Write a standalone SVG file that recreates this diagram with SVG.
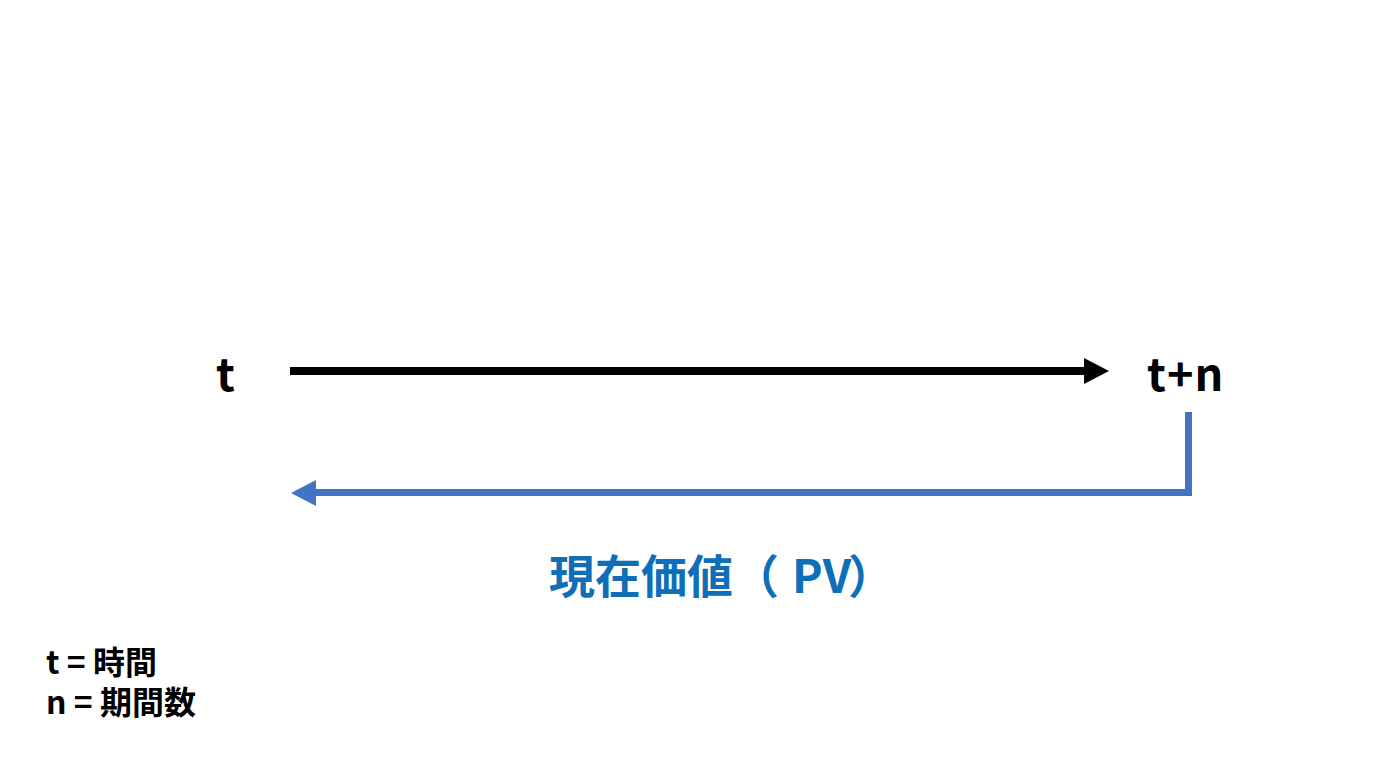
<svg xmlns="http://www.w3.org/2000/svg" width="1376" height="768" viewBox="0 0 1376 768">
<style>
.lbl{font-family:"Noto Sans CJK JP","Noto Sans",sans-serif;font-weight:bold;fill:#000}
.pv{font-family:"Noto Sans CJK JP","Noto Sans",sans-serif;font-weight:bold;fill:#0E6EB8}
</style>
<rect width="1376" height="768" fill="#fff"/>
<g id="node-t"><text class="lbl" x="216" y="391" font-size="45">t</text></g>
<g id="node-tn"><text class="lbl" x="1147" y="391" font-size="45" letter-spacing="1">t+n</text></g>
<g id="connectors">
<line x1="290" y1="371" x2="1086" y2="371" stroke="#000" stroke-width="8"/>
<polygon points="1084,358 1109,371 1084,384" fill="#000"/>
<polyline points="1188.5,412 1188.5,492.5 314,492.5" fill="none" stroke="#4472C4" stroke-width="7"/>
<polygon points="316,480 291,493 316,506" fill="#4472C4"/>
</g>
<g id="label-pv"><text class="pv" x="549" y="593" font-size="46">現在価値（<tspan x="792">PV</tspan><tspan x="848">）</tspan></text></g>
<g id="legend">
<text class="lbl" x="46" y="674" font-size="32">t = 時間</text>
<text class="lbl" x="46" y="714" font-size="32">n = 期間数</text>
</g>
</svg>
